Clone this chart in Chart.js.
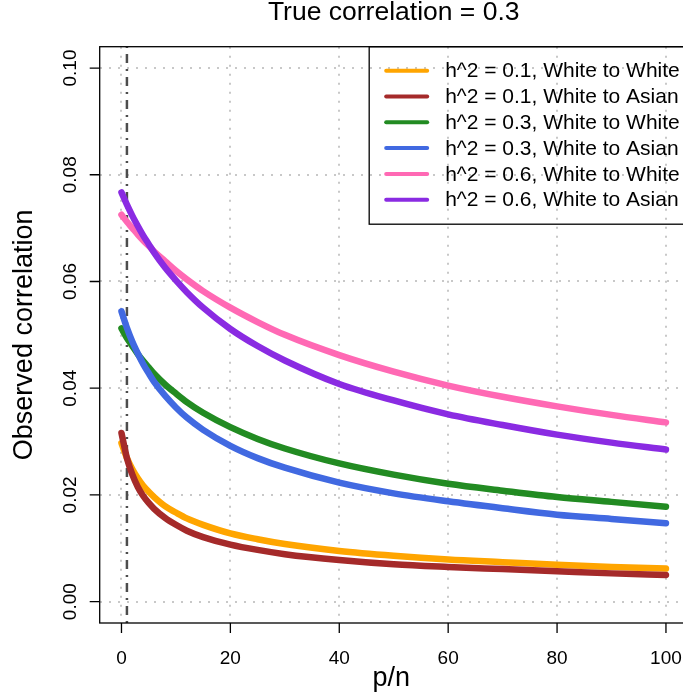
<!DOCTYPE html>
<html>
<head>
<meta charset="utf-8">
<script src="https://cdn.jsdelivr.net/npm/chart.js@4.4.1/dist/chart.umd.min.js"></script>
<style>
  html, body { margin: 0; padding: 0; background: #fff; }
</style>
</head>
<body>
<canvas id="chart" width="683" height="693"></canvas>
<script>
const pn = [0, 1, 2, 3, 4, 5, 6, 8, 10, 12, 15, 20, 25, 30, 40, 50, 60, 70, 80, 90, 100];

// observed correlation, one array per curve
const h01WhiteWhite = [0.0297, 0.0269, 0.0248, 0.0231, 0.0217, 0.0206, 0.0196, 0.0179, 0.0167, 0.0156, 0.0144, 0.0128, 0.0117, 0.0108, 0.0095, 0.0086, 0.0079, 0.0074, 0.0069, 0.0065, 0.0062];
const h01WhiteAsian = [0.0316, 0.0269, 0.0238, 0.0215, 0.0198, 0.0185, 0.0174, 0.0157, 0.0144, 0.0133, 0.0121, 0.0107, 0.0097, 0.0089, 0.0078, 0.0070, 0.0065, 0.0061, 0.0057, 0.0053, 0.0050];
const h03WhiteWhite = [0.0512, 0.0494, 0.0479, 0.0464, 0.0451, 0.0439, 0.0427, 0.0407, 0.0390, 0.0374, 0.0354, 0.0327, 0.0305, 0.0287, 0.0259, 0.0238, 0.0221, 0.0208, 0.0196, 0.0187, 0.0178];
const h03WhiteAsian = [0.0544, 0.0513, 0.0487, 0.0465, 0.0445, 0.0428, 0.0412, 0.0386, 0.0364, 0.0345, 0.0322, 0.0292, 0.0269, 0.0251, 0.0223, 0.0203, 0.0188, 0.0175, 0.0163, 0.0155, 0.0147];
const h06WhiteWhite = [0.0725, 0.0712, 0.0700, 0.0688, 0.0677, 0.0667, 0.0656, 0.0638, 0.0620, 0.0604, 0.0582, 0.0551, 0.0524, 0.0500, 0.0462, 0.0431, 0.0405, 0.0384, 0.0366, 0.0350, 0.0336];
const h06WhiteAsian = [0.0767, 0.0744, 0.0723, 0.0704, 0.0686, 0.0670, 0.0654, 0.0626, 0.0602, 0.0580, 0.0551, 0.0511, 0.0479, 0.0452, 0.0408, 0.0377, 0.0351, 0.0331, 0.0313, 0.0298, 0.0285];

const seriesLabels = [
    'h^2 = 0.1, White to White',
    'h^2 = 0.1, White to Asian',
    'h^2 = 0.3, White to White',
    'h^2 = 0.3, White to Asian',
    'h^2 = 0.6, White to White',
    'h^2 = 0.6, White to Asian'
];
const seriesValues = [h01WhiteWhite, h01WhiteAsian, h03WhiteWhite, h03WhiteAsian, h06WhiteWhite, h06WhiteAsian];
const seriesColors = ['#FFA500', '#A52A2A', '#228B22', '#4169E1', '#FF69B4', '#8A2BE2'];

const xTicks = [0, 20, 40, 60, 80, 100];
const yTicks = [0, 0.02, 0.04, 0.06, 0.08, 0.10];
const cutoffPn = 1;
const titleText = 'True correlation = 0.3';

const FONT = "'Liberation Sans', Arial, Helvetica, sans-serif";
Chart.defaults.font.family = FONT;
Chart.defaults.color = '#000';

// title, box, black tick marks and the legend, R style
const rFrame = {
    id: 'rFrame',
    afterDraw(chart) {
        const { ctx, chartArea: a, scales: { x, y } } = chart;
        const right = x.getPixelForValue(104); // R's plot region runs past the canvas edge
        ctx.save();

        ctx.fillStyle = '#000';
        ctx.font = '26.5px ' + FONT;
        ctx.textAlign = 'center';
        ctx.textBaseline = 'middle';
        ctx.fillText(titleText, (a.left + right) / 2, 13);

        ctx.strokeStyle = '#000';
        ctx.lineWidth = 1.3;
        ctx.strokeRect(a.left, a.top, right - a.left, a.bottom - a.top);

        ctx.beginPath();
        xTicks.forEach(v => {
            const px = x.getPixelForValue(v);
            ctx.moveTo(px, a.bottom);
            ctx.lineTo(px, a.bottom + 10);
        });
        yTicks.forEach(v => {
            const py = y.getPixelForValue(v);
            ctx.moveTo(a.left, py);
            ctx.lineTo(a.left - 10, py);
        });
        ctx.stroke();

        // legend, top right
        ctx.font = '21px ' + FONT;
        const maxW = Math.max(...seriesLabels.map(t => ctx.measureText(t).width));
        const textX = right - maxW - 8;
        const boxLeft = textX - 76;
        ctx.strokeRect(boxLeft, a.top, right - boxLeft + 5, 177.5);
        ctx.textAlign = 'left';
        seriesLabels.forEach((label, i) => {
            const ry = a.top + 24 + i * 25.8;
            ctx.strokeStyle = seriesColors[i];
            ctx.lineWidth = 4;
            ctx.lineCap = 'round';
            ctx.beginPath();
            ctx.moveTo(textX - 59, ry);
            ctx.lineTo(textX - 18, ry);
            ctx.stroke();
            ctx.fillText(label, textX, ry + 1);
        });
        ctx.restore();
    }
};

const datasets = seriesValues.map((vals, i) => ({
    label: seriesLabels[i],
    data: pn.map((p, j) => ({ x: p, y: vals[j] })),
    borderColor: seriesColors[i],
    borderWidth: 6.5,
    borderCapStyle: 'round',
    borderJoinStyle: 'round',
    pointRadius: 0,
    cubicInterpolationMode: 'monotone',
    fill: false,
    order: 10 - i
}));

// vertical dot-dash line at p/n = 1
datasets.push({
    label: 'cutoff',
    data: [{ x: cutoffPn, y: -0.004 }, { x: cutoffPn, y: 0.104 }],
    borderColor: '#4d4d4d',
    borderWidth: 2.5,
    borderDash: [2, 6, 9, 6],
    pointRadius: 0,
    fill: false,
    order: 20
});

const gridStyle = {
    color: '#c8c8c8',
    lineWidth: 2,
    drawTicks: true,
    tickLength: 10,
    tickColor: 'rgba(0,0,0,0)'
};

new Chart(document.getElementById('chart'), {
    type: 'line',
    data: { datasets },
    plugins: [rFrame],
    options: {
        responsive: false,
        devicePixelRatio: 1,
        animation: false,
        layout: { padding: { left: 0, right: 0, top: 46.7, bottom: 0 } },
        plugins: {
            legend: { display: false },
            tooltip: { enabled: false },
            title: { display: false }
        },
        scales: {
            x: {
                type: 'linear',
                min: -4,
                max: 103.13,
                afterBuildTicks: s => { s.ticks = xTicks.map(v => ({ value: v })); },
                afterFit: s => { s.height = 70; s.paddingLeft = 0; s.paddingRight = 0; },
                grid: gridStyle,
                border: { display: false, dash: [2, 7] },
                ticks: { font: { size: 19, lineHeight: 1 }, padding: 16, maxRotation: 0, autoSkip: false },
                title: { display: true, text: 'p/n', font: { size: 27, lineHeight: 1 }, padding: { top: 0, bottom: 1 } }
            },
            y: {
                type: 'linear',
                min: -0.004,
                max: 0.104,
                afterBuildTicks: s => { s.ticks = yTicks.map(v => ({ value: v })); },
                afterFit: s => { s.width = 99.7; s.paddingTop = 0; s.paddingBottom = 0; },
                grid: gridStyle,
                border: { display: false, dash: [2, 7] },
                ticks: {
                    font: { size: 19 },
                    padding: 0,
                    minRotation: 90,
                    maxRotation: 90,
                    crossAlign: 'center',
                    autoSkip: false,
                    callback: v => v.toFixed(2)
                },
                title: { display: true, text: 'Observed correlation', font: { size: 27, lineHeight: 1 }, padding: { top: 11, bottom: 0 } }
            }
        }
    }
});
</script>
</body>
</html>
